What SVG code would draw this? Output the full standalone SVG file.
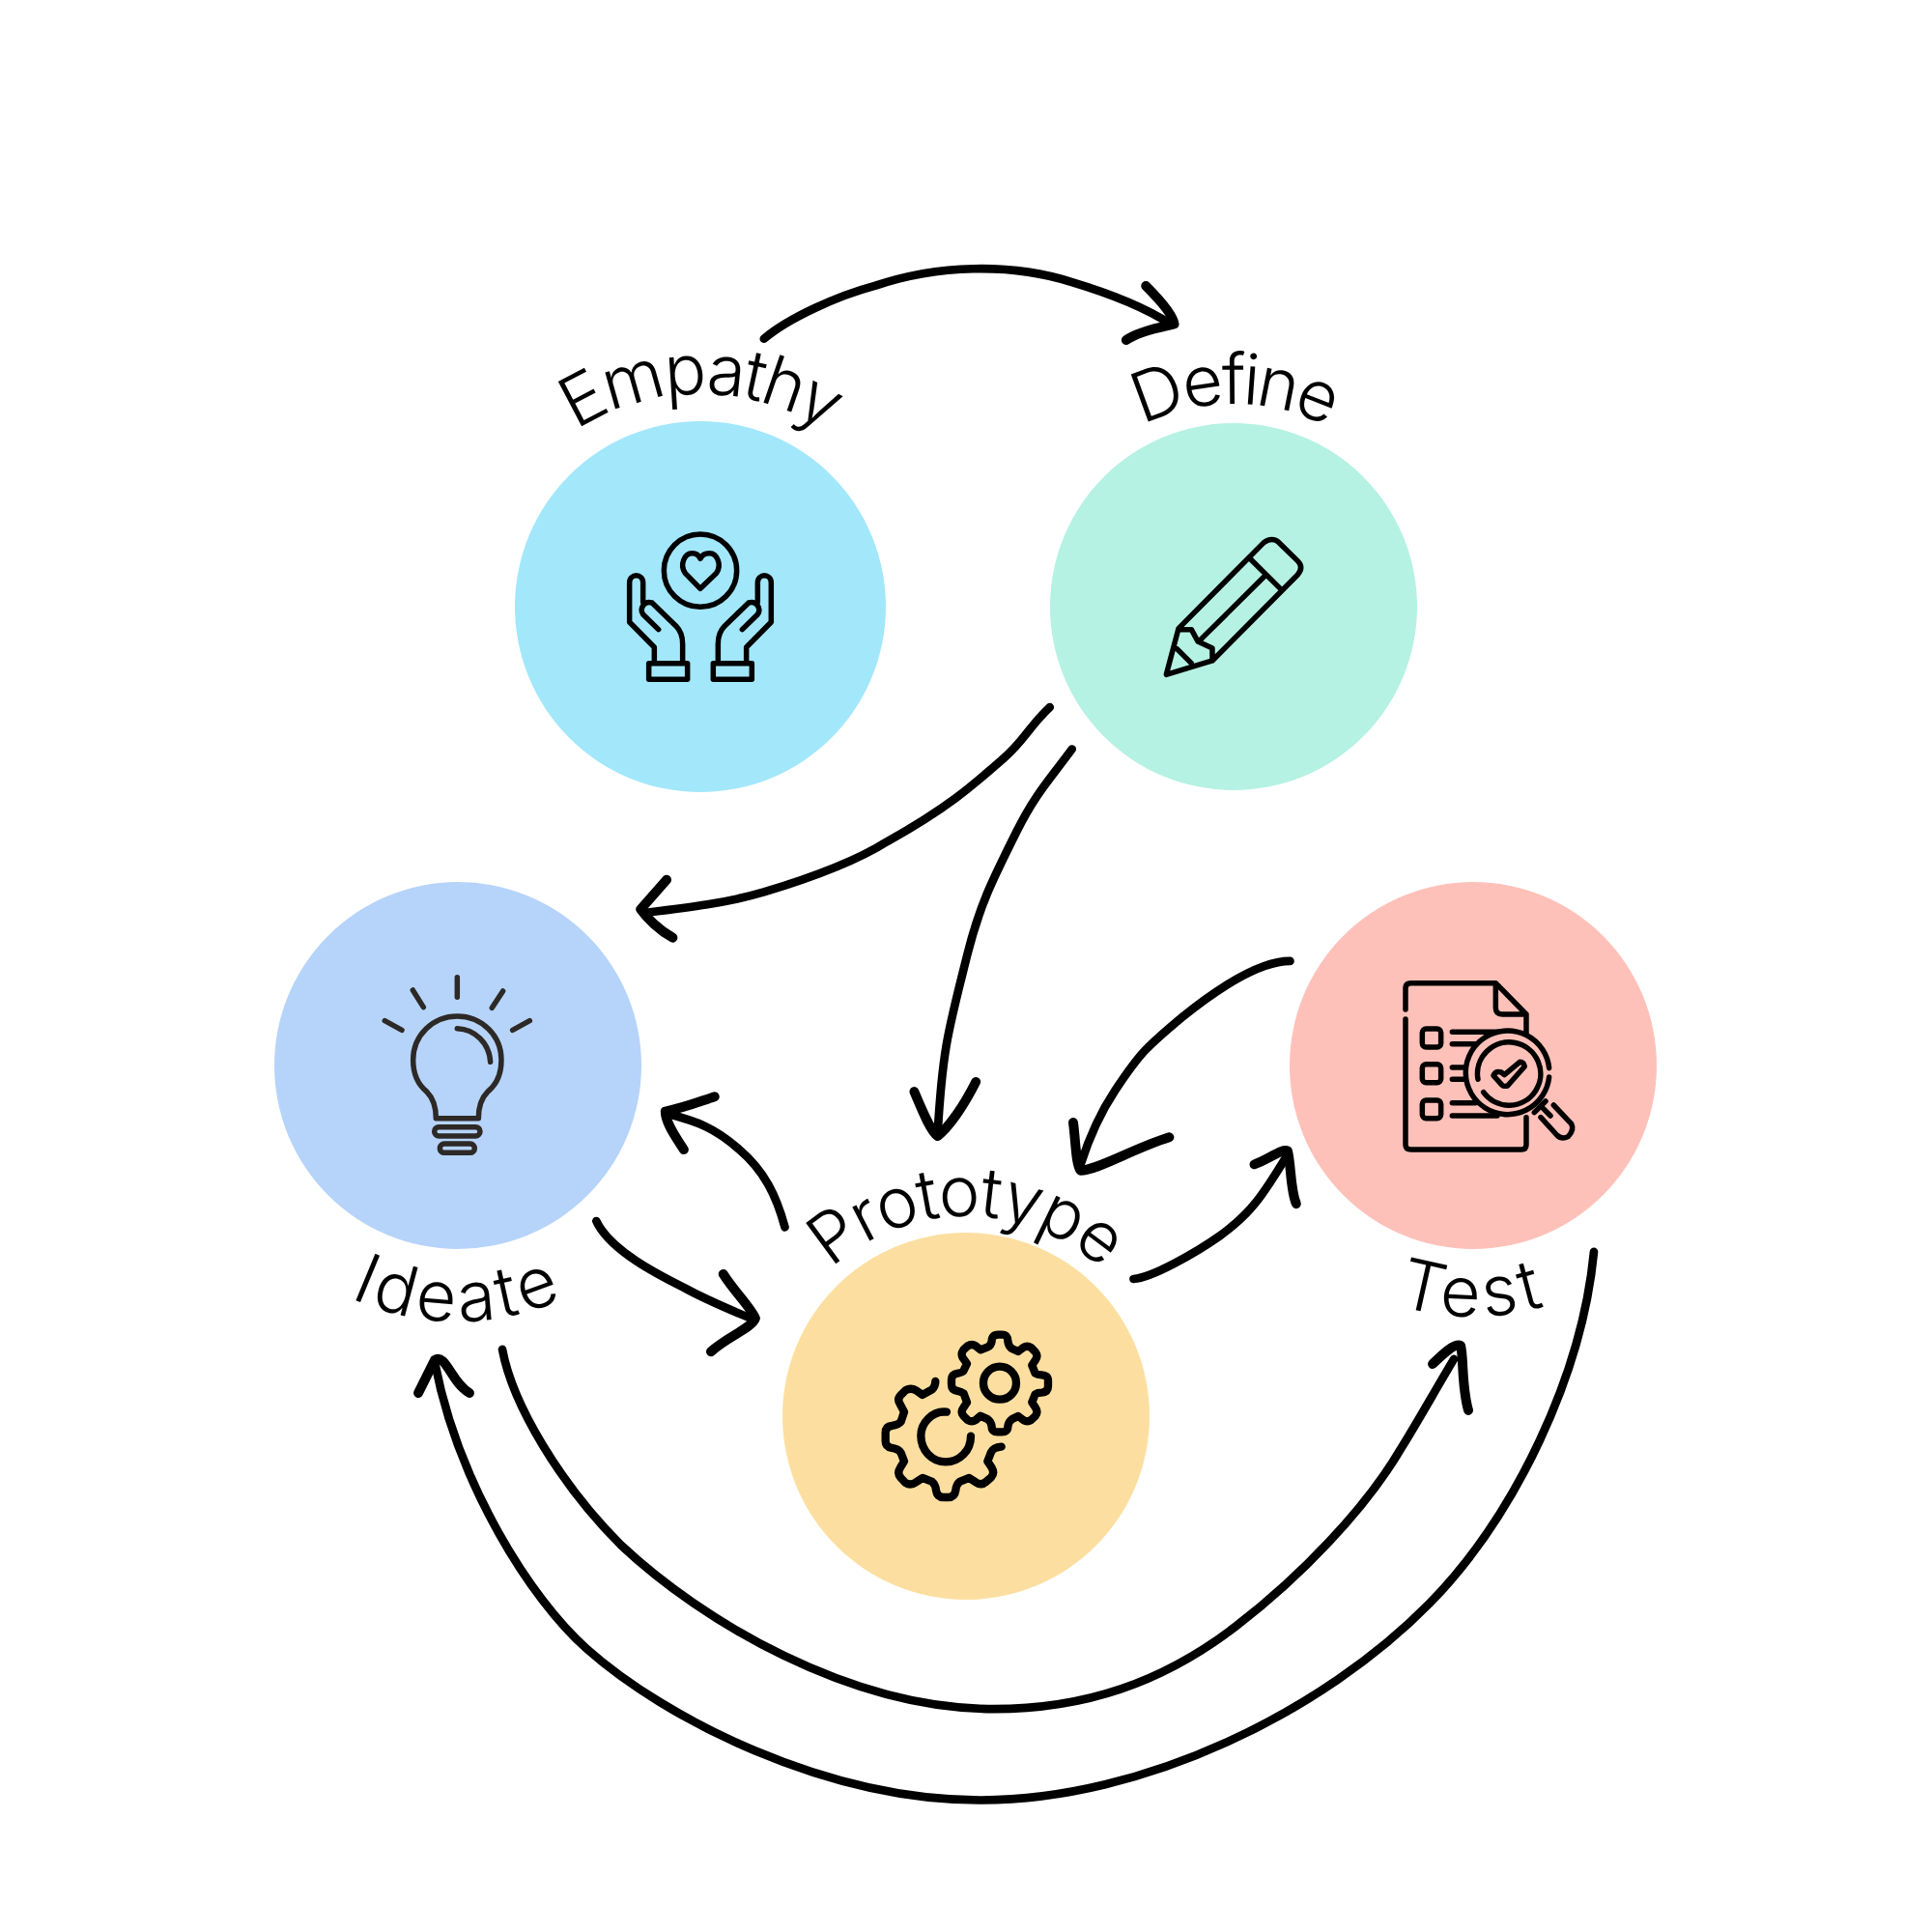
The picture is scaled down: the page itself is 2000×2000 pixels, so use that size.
<svg xmlns="http://www.w3.org/2000/svg" width="2000" height="2000" viewBox="0 0 2000 2000">
<style>
.c{fill:none;stroke:#000;stroke-width:6.8;stroke-linecap:round;stroke-linejoin:round}
.h{fill:none;stroke:#000;stroke-width:7.8;stroke-linecap:round;stroke-linejoin:round}
.i{fill:none;stroke:#000;stroke-width:16.5;stroke-linecap:round;stroke-linejoin:round}
.b{stroke:#2d2926}
.g{stroke-width:25}
.t{font-family:"Inter","Liberation Sans",sans-serif;font-size:72px;font-weight:300;fill:#000;text-anchor:middle}
</style>
<defs>
<path id="pE" d="M485,648 A240,240 0 0 1 965,648"/>
<path id="pD" d="M1067,628 A210,210 0 0 1 1487,628"/>
<path id="pP" d="M793,1466 A207,207 0 0 1 1207,1466"/>
<path id="pI" d="M209,1103 A265,265 0 0 0 739,1103"/>
<path id="pT" d="M1265,1103 A260,260 0 0 0 1785,1103"/>
</defs>
<rect width="2000" height="2000" fill="#fff"/>
<g id="empathy">
<circle cx="725" cy="628" r="192" fill="#a3e7fb"/>
<text class="t" letter-spacing="-3"><textPath href="#pE" startOffset="50%">Empathy</textPath></text>
<g transform="translate(620,530) scale(.3333)">
<circle class="i" cx="315" cy="182" r="113"/>
<path class="i" d="M315,238 L268,190 C250,165 265,128 290,128 C305,128 312,138 315,145 C318,138 327,128 343,128 C368,128 382,165 365,190 Z"/>
<path class="i" d="M172,468 V420 L95,342 V220 C95,190 137,190 137,220 V280 M185,365 L137,318 C125,300 140,275 165,282 L240,355 C255,370 260,390 260,410 V468 M155,470 H275 V520 H155 Z"/>
<path class="i" d="M458,468 V420 L535,342 V220 C535,190 493,190 493,220 V280 M445,365 L493,318 C505,300 490,275 465,282 L390,355 C375,370 370,390 370,410 V468 M475,470 H355 V520 H475 Z"/>
</g>
</g>
<g id="define">
<circle cx="1277" cy="628" r="190" fill="#b5f2e3"/>
<text class="t" letter-spacing="-4"><textPath href="#pD" startOffset="50%">Define</textPath></text>
<g transform="translate(1180,540) scale(.3333)">
<path class="i" d="M120,332 L385,65 C400,52 420,52 432,65 L490,122 C503,135 503,150 490,165 L225,432 L82,475 Z M345,118 L440,212 M190,365 L385,172 M120,335 H160 L180,372 L225,393 V432 M115,395 L160,440"/>
</g>
</g>
<g id="ideate">
<circle cx="474" cy="1103" r="190" fill="#b6d4fa"/>
<text class="t" letter-spacing="4"><textPath href="#pI" startOffset="50%">Ideate</textPath></text>
<g transform="translate(380,990) scale(.3333)">
<path class="i b" d="M280,65 V127 M142,105 L175,158 M422,108 L388,160 M55,200 L108,229 M505,200 L452,229 M214,503 C214,470 205,440 185,420 C160,400 143,365 143,322 C143,245 205,186 280,186 C355,186 417,245 417,322 C417,365 400,400 375,420 C355,440 346,470 346,503 Z M280,224 C335,226 380,270 383,328"/>
<rect class="i b" x="209" y="530" width="142" height="28" rx="14"/>
<rect class="i b" x="226" y="582" width="108" height="28" rx="14"/>
</g>
</g>
<g id="prototype">
<circle cx="1000" cy="1466" r="190" fill="#fcdfa0"/>
<text class="t" letter-spacing="-2"><textPath href="#pP" startOffset="50%">Prototype</textPath></text>
<g transform="translate(900,1360) scale(.3333)">
<path class="i g" d="M380,85 Q380,65 400,65 H412 Q430,65 430,85 Q432,100 442,108 L462,117 L478,105 Q490,97 502,105 L515,118 Q525,130 516,143 L505,160 L515,185 Q522,190 535,190 Q555,190 555,208 V225 Q555,243 535,245 Q522,245 515,250 L505,275 L516,292 Q525,305 515,318 L502,330 Q490,338 478,330 L462,318 L442,328 Q432,335 430,350 Q430,367 412,367 H398 Q380,367 380,350 Q378,335 368,328 L345,317 L330,330 Q318,338 305,330 L292,317 Q282,305 292,292 L303,275 L293,248 Q285,242 275,240 Q255,238 255,220 V205 Q255,188 275,185 Q287,183 292,178 L303,155 L290,137 Q283,125 292,112 L305,100 Q318,92 330,100 L345,112 L368,103 Q378,98 380,85 Z"/>
<circle class="i g" cx="405" cy="215" r="51"/>
<path class="i g" d="M205,210 Q205,225 195,235 L165,252 L145,238 Q128,228 112,238 L98,252 Q85,265 95,280 L108,305 L98,335 Q90,345 70,348 Q50,350 50,370 V395 Q50,413 70,417 Q90,420 98,432 L108,458 L95,480 Q85,495 98,510 L112,525 Q128,535 145,523 L165,510 L195,522 Q205,530 207,548 Q210,570 230,570 H245 Q265,570 268,548 Q270,530 280,522 L310,510 L330,523 Q347,535 362,522 L378,508 Q390,495 380,478 L367,458 L378,430 Q385,415 410,413 M240,305 C195,300 160,340 160,378 C160,425 195,460 237,460 C280,460 315,425 315,380"/>
</g>
</g>
<g id="test">
<circle cx="1525" cy="1103" r="190" fill="#fec1b9"/>
<text class="t" letter-spacing="5"><textPath href="#pT" startOffset="50%">Test</textPath></text>
<g transform="translate(1440,1000) scale(.3333)">
<path class="i" d="M45,135 V70 Q45,53 62,53 H325 L420,150 V210 M420,470 V555 Q420,570 405,570 H62 Q45,570 45,555 V165 M325,53 V130 Q325,150 345,150 H420"/>
<rect class="i" x="97" y="195" width="58" height="57" rx="12"/>
<rect class="i" x="97" y="305" width="58" height="57" rx="12"/>
<rect class="i" x="97" y="417" width="58" height="56" rx="12"/>
<path class="i" d="M190,205 H330 M190,242 H262 M190,315 H225 M190,352 H225 M190,425 H262 M190,465 H330"/>
<path class="i" d="M491,317 A130,130 0 1 0 491,345 M270,352 A98,98 0 1 1 287,392"/>
<path class="i" d="M318,340 Q325,325 342,330 L352,338 L400,298 Q412,298 415,312 L362,372 Q350,375 345,370 Z"/>
<path class="i" d="M480,420 L445,455 M505,432 L560,490 Q570,510 550,530 Q530,540 515,525 L465,470 M470,440 L495,465"/>
</g>
</g>
<g id="connectors" transform="scale(1.27551)">
<path class="c" d="M620,275 C640,258 680,240 710,232 C760,215 820,213 870,229 C900,238 930,250 950,263"/>
<path class="h" d="M930,232 C940,242 952,255 953,263 C945,265 925,268 914,276"/>
<path class="c" d="M852,574 C835,590 832,600 815,615 C790,637 770,655 720,683 C690,702 650,715 620,724 C590,733 555,737 522,741"/>
<path class="h" d="M541,714 L520,738 C525,745 535,755 546,761"/>
<path class="c" d="M870,608 C850,635 840,645 825,675 C805,715 795,735 785,775 C770,835 765,850 761,920"/>
<path class="h" d="M742,886 C748,900 755,918 761,922 C770,915 782,898 792,878"/>
<path class="c" d="M637,996 C630,970 620,950 600,933 C580,915 565,910 542,904"/>
<path class="h" d="M580,890 C565,895 555,899 540,902 C540,912 550,925 555,933"/>
<path class="c" d="M484,991 C495,1015 535,1035 555,1045 C575,1056 590,1062 612,1071"/>
<path class="h" d="M587,1034 C595,1047 610,1062 613,1070 C610,1078 590,1085 577,1097"/>
<path class="c" d="M1047,780 C1020,780 985,805 960,825 C930,850 925,855 905,885 C895,900 885,920 877,945"/>
<path class="h" d="M871,911 C873,925 873,945 877,950 C890,950 920,932 949,923"/>
<path class="c" d="M920,1038 C935,1037 970,1017 990,1003 C1015,985 1025,970 1045,937"/>
<path class="h" d="M1018,945 C1030,941 1040,932 1045,934 C1048,945 1047,965 1052,977"/>
<path class="c" d="M407.7,1095.2 C416,1140 455,1205 504,1254 C570,1316 690,1387 806,1387 C880,1387 943,1366 1003.5,1319.5 C1055,1280 1108,1225 1136.8,1176 C1150,1155 1165,1128 1180,1103"/>
<path class="h" d="M1162.7,1107 C1170,1100 1180,1090 1185.4,1092 C1188,1100 1186,1125 1191.7,1144.6"/>
<path class="c" d="M1293.6,1016 C1284,1116 1230,1230 1160,1301.5 C1075,1388 930,1461 795,1461 C670,1461 540,1395 476,1338 C431,1298 372,1205 352.8,1105.4"/>
<path class="h" d="M339.5,1130.5 L352.8,1103.9 C362,1098 366,1122 381,1130.5"/>
</g>
</svg>
